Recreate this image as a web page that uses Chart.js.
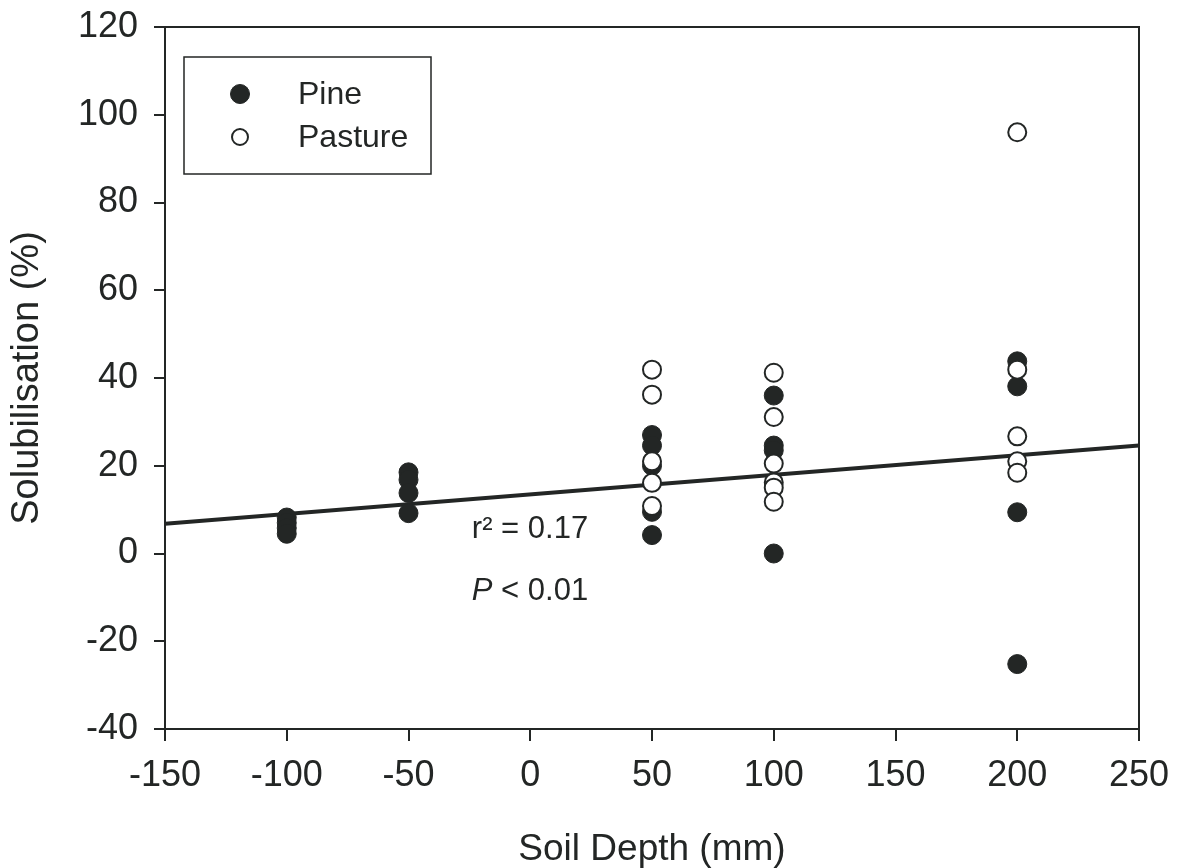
<!DOCTYPE html>
<html>
<head>
<meta charset="utf-8">
<script src="https://cdn.jsdelivr.net/npm/chart.js@4"></script>
<style>
  html, body { margin: 0; padding: 0; background: #fff; }
  #wrap { width: 1179px; height: 868px; position: relative; }
</style>
</head>
<body>
<div id="wrap"><canvas id="solChart" width="1179" height="868"></canvas></div>
<script>
// --- data ---
const pineDepth = [-100, -100, -100, -100, -50, -50, -50, -50, 50, 50, 50, 50, 50, 100, 100, 100, 100, 200, 200, 200, 200];
const pineSol   = [8.2, 7, 5.8, 4.5, 18.5, 16.8, 13.8, 9.2, 27, 24.6, 20, 9.5, 4.2, 36, 24.6, 23.5, 0, 43.8, 38.1, 9.4, -25.2];

const pastureDepth = [50, 50, 50, 50, 50, 100, 100, 100, 100, 100, 100, 200, 200, 200, 200, 200];
const pastureSol   = [41.9, 36.2, 21, 16.1, 10.8, 41.2, 31.1, 20.5, 16.2, 15, 11.8, 96, 41.9, 26.7, 21, 18.4];

// regression line ends
const fitDepth = [-150, 250];
const fitSol   = [6.8, 24.6];

const xTickValues = [-150, -100, -50, 0, 50, 100, 150, 200, 250];
const yTickValues = [-40, -20, 0, 20, 40, 60, 80, 100, 120];

const INK = '#232625';
const FONT = '"Liberation Sans", Arial, sans-serif';

function toPoints(xs, ys) {
    return xs.map((x, i) => ({ x: x, y: ys[i] }));
}

// frame, legend box and stats text
const extras = {
    id: 'extras',
    afterDraw(chart) {
        const { ctx, chartArea: a, scales } = chart;
        ctx.save();

        // top + right sides of the box
        ctx.strokeStyle = INK;
        ctx.lineWidth = 2;
        ctx.beginPath();
        ctx.moveTo(a.left, a.top);
        ctx.lineTo(a.right, a.top);
        ctx.lineTo(a.right, a.bottom);
        ctx.stroke();

        // legend
        ctx.lineWidth = 1.5;
        ctx.strokeRect(184, 57, 247, 117);
        const items = chart.data.datasets.filter(d => d.showInLegend);
        items.forEach((d, i) => {
            const cy = 94 + i * 43;
            ctx.beginPath();
            ctx.arc(240, cy, i ? 8 : 9.5, 0, Math.PI * 2);
            ctx.fillStyle = d.backgroundColor;
            ctx.fill();
            ctx.lineWidth = d.borderWidth;
            ctx.strokeStyle = d.borderColor;
            ctx.stroke();
            ctx.fillStyle = INK;
            ctx.font = '32px ' + FONT;
            ctx.textBaseline = 'middle';
            ctx.textAlign = 'left';
            ctx.fillText(d.label, 298, cy + 1);
        });

        // r² and P
        const tx = scales.x.getPixelForValue(-24);
        ctx.fillStyle = INK;
        ctx.textAlign = 'left';
        ctx.textBaseline = 'alphabetic';
        ctx.font = '31px ' + FONT;
        ctx.fillText('r\u00B2 = 0.17', tx, scales.y.getPixelForValue(3.6));
        ctx.font = 'italic 31px ' + FONT;
        ctx.fillText('P', tx, scales.y.getPixelForValue(-10.5));
        const pw = ctx.measureText('P').width;
        ctx.font = '31px ' + FONT;
        ctx.fillText(' < 0.01', tx + pw, scales.y.getPixelForValue(-10.5));

        ctx.restore();
    }
};

const ctx = document.getElementById('solChart').getContext('2d');
const solChart = new Chart(ctx, {
    type: 'scatter',
    data: {
        datasets: [
            {
                label: 'Fit',
                type: 'line',
                data: toPoints(fitDepth, fitSol),
                borderColor: INK,
                borderWidth: 4,
                pointRadius: 0,
                fill: false,
                order: 3
            },
            {
                label: 'Pine',
                data: toPoints(pineDepth, pineSol),
                backgroundColor: INK,
                borderColor: INK,
                borderWidth: 1,
                pointRadius: 9.5,
                showInLegend: true,
                order: 2
            },
            {
                label: 'Pasture',
                data: toPoints(pastureDepth, pastureSol),
                backgroundColor: '#ffffff',
                borderColor: INK,
                borderWidth: 2,
                pointRadius: 9,
                showInLegend: true,
                order: 1
            }
        ]
    },
    options: {
        responsive: false,
        animation: false,
        layout: { padding: { left: 0, top: 27, right: 40, bottom: 0 } },
        plugins: {
            legend: { display: false },
            tooltip: { enabled: false }
        },
        scales: {
            x: {
                type: 'linear',
                min: -150,
                max: 250,
                afterBuildTicks: s => { s.ticks = xTickValues.map(v => ({ value: v })); },
                afterFit: s => { s.height = 139; s.paddingLeft = 0; s.paddingRight = 0; },
                ticks: {
                    color: INK,
                    font: { family: FONT, size: 36 },
                    padding: 13,
                    maxRotation: 0,
                    callback: v => String(v)
                },
                grid: { drawOnChartArea: false, drawTicks: true, tickLength: 12, color: INK, lineWidth: 2 },
                border: { color: INK, width: 2 },
                title: {
                    display: true,
                    text: 'Soil Depth (mm)',
                    color: INK,
                    font: { family: FONT, size: 37, lineHeight: 1 },
                    padding: { top: 0, bottom: 0 }
                }
            },
            y: {
                type: 'linear',
                min: -40,
                max: 120,
                afterBuildTicks: s => { s.ticks = yTickValues.map(v => ({ value: v })); },
                afterFit: s => { s.width = 165; s.paddingTop = 0; s.paddingBottom = 0; },
                ticks: {
                    color: INK,
                    font: { family: FONT, size: 36 },
                    padding: 16,
                    callback: v => String(v)
                },
                grid: { drawOnChartArea: false, drawTicks: true, tickLength: 11, color: INK, lineWidth: 2 },
                border: { color: INK, width: 2 },
                title: {
                    display: true,
                    text: 'Solubilisation (%)',
                    color: INK,
                    font: { family: FONT, size: 38 },
                    padding: { top: 5, bottom: 0 }
                }
            }
        }
    },
    plugins: [extras]
});
</script>
</body>
</html>
